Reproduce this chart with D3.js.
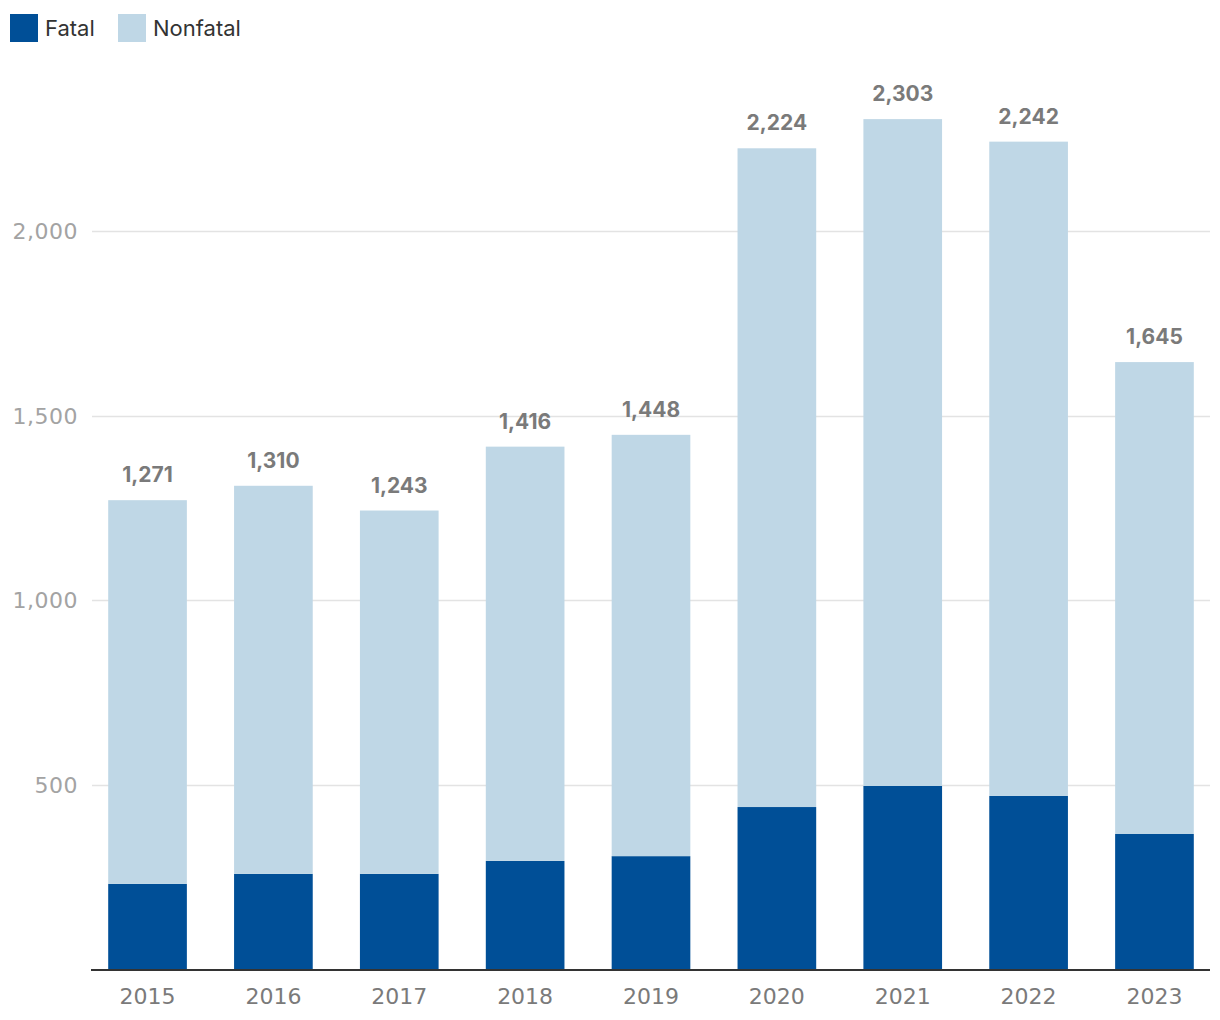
<!DOCTYPE html>
<html><head><meta charset="utf-8">
<script src="https://cdn.jsdelivr.net/npm/d3@7"></script>
<style>body{margin:0;background:#fff}svg{display:block;font-family:"Inter","Liberation Sans",sans-serif}</style>
</head><body><svg id="c" width="1220" height="1020"></svg>
<script>
const years = ["2015","2016","2017","2018","2019","2020","2021","2022","2023"];
const fatal = [232, 259, 259, 294, 307, 440, 497, 470, 367];
const total = [1271, 1310, 1243, 1416, 1448, 2224, 2303, 2242, 1645];
const yTicks = [500, 1000, 1500, 2000];
const seriesNames = ["Fatal", "Nonfatal"];
const colors = ["#004f97", "#bfd7e6"];

const svg = d3.select("#c");
const x = d3.scaleBand().domain(years).range([61, 1241]).paddingInner(0.375).paddingOuter(0.375);
const y = d3.scaleLinear().domain([0, 2000]).range([969.5, 231]);

const rows = years.map((yr, i) => ({year: yr, Fatal: fatal[i], Nonfatal: total[i] - fatal[i], total: total[i]}));
const stack = d3.stack().keys(seriesNames)(rows);

// gridlines
svg.append("g").selectAll("line").data(yTicks).join("line")
  .attr("x1", 92).attr("x2", 1210)
  .attr("y1", d => Math.round(y(d)) + 0.5).attr("y2", d => Math.round(y(d)) + 0.5)
  .attr("stroke", "#e3e3e3").attr("stroke-width", 1.5);

// y labels
svg.append("g").selectAll("text").data(yTicks).join("text")
  .attr("x", 78).attr("y", d => y(d) + 8)
  .attr("text-anchor", "end").attr("font-size", 22).attr("fill", "#a3a3a3")
  .attr("font-family", "DejaVu Sans").attr("letter-spacing", 0.5)
  .text(d => d3.format(",")(d));

// bars
svg.append("g").selectAll("g").data(stack).join("g")
  .attr("fill", (d, i) => colors[i])
  .selectAll("rect").data(d => d).join("rect")
  .attr("x", d => x(d.data.year)).attr("width", x.bandwidth())
  .attr("y", d => y(d[1])).attr("height", d => y(d[0]) - y(d[1]));

// total labels
svg.append("g").selectAll("text").data(rows).join("text")
  .attr("x", d => x(d.year) + x.bandwidth() / 2).attr("y", d => y(d.total) - 18)
  .attr("text-anchor", "middle").attr("font-size", 21).attr("font-weight", 700).attr("fill", "#7a7a7a")
  .text(d => d3.format(",")(d.total));

// x axis
svg.append("line").attr("x1", 91).attr("x2", 1210).attr("y1", 970).attr("y2", 970)
  .attr("stroke", "#333").attr("stroke-width", 2);
svg.append("g").selectAll("text").data(years).join("text")
  .attr("x", d => x(d) + x.bandwidth() / 2).attr("y", 1004)
  .attr("text-anchor", "middle").attr("font-size", 22).attr("fill", "#7a7a7a")
  .attr("font-family", "DejaVu Sans")
  .text(d => d);

// legend
const leg = svg.append("g");
const legX = [10, 118];
seriesNames.forEach((s, i) => {
  leg.append("rect").attr("x", legX[i]).attr("y", 14).attr("width", 28).attr("height", 28).attr("fill", colors[i]);
  leg.append("text").attr("x", legX[i] + 35).attr("y", 36).attr("font-size", 22).attr("fill", "#333").text(s);
});
</script></body></html>
